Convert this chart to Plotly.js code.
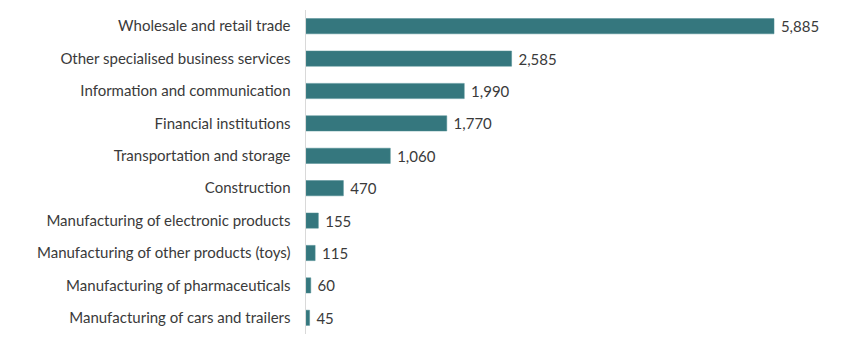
<!DOCTYPE html>
<html><head><meta charset="utf-8">
<script src="https://cdn.plot.ly/plotly-3.0.1.min.js"></script>
<style>html,body{margin:0;padding:0;background:#fff}#c{width:850px;height:357px}</style>
</head><body><div id="c"></div>
<script>
const categories = [
  "Wholesale and retail trade",
  "Other specialised business services",
  "Information and communication",
  "Financial institutions",
  "Transportation and storage",
  "Construction",
  "Manufacturing of electronic products",
  "Manufacturing of other products (toys)",
  "Manufacturing of pharmaceuticals",
  "Manufacturing of cars and trailers"
];
const values = [5885, 2585, 1990, 1770, 1060, 470, 155, 115, 60, 45];

const labels = values.map(v => "\u00a0" + v.toLocaleString("en-US"));

Plotly.newPlot("c", [{
  type: "bar",
  orientation: "h",
  y: categories,
  x: values,
  text: labels,
  textposition: "outside",
  constraintext: "none",
  cliponaxis: false,
  textfont: {family: "Lato, 'Open Sans', sans-serif", size: 15, color: "#3a3a3a"},
  marker: {color: "#35777e", line: {color: "#4f8d92", width: 0.5}},
  width: 0.47,
  hoverinfo: "none"
}], {
  width: 850, height: 357,
  margin: {l: 306, r: 44, t: 10, b: 23},
  paper_bgcolor: "#fff", plot_bgcolor: "#fff",
  showlegend: false,
  font: {family: "Lato, 'Open Sans', sans-serif", size: 15, color: "#3a3a3a"},
  xaxis: {range: [0, 6287], visible: false, showgrid: false, zeroline: false},
  yaxis: {autorange: "reversed", showline: true, linecolor: "#d9d9d9", linewidth: 1.5,
          ticks: "outside", ticklen: 11, tickcolor: "rgba(0,0,0,0)", showgrid: false,
          tickfont: {size: 15, color: "#3a3a3a"}}
}, {displayModeBar: false, staticPlot: true});
</script></body></html>
